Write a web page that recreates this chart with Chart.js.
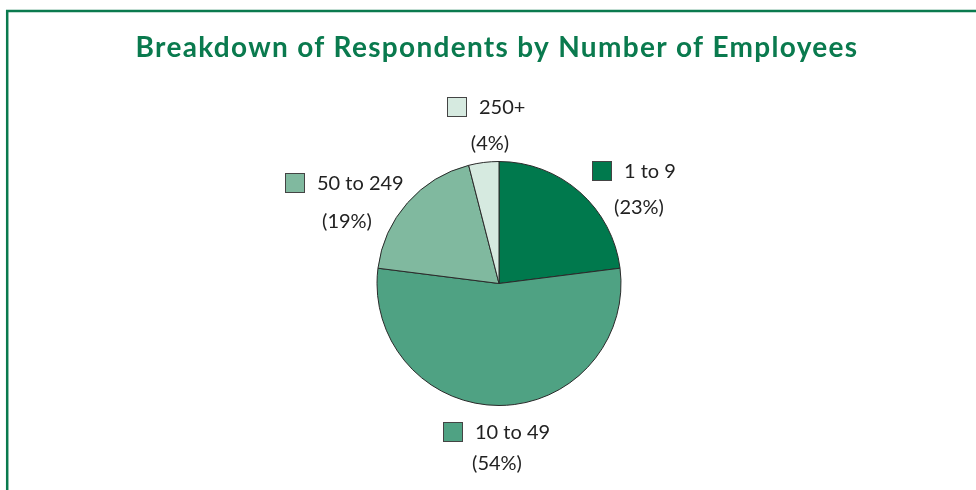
<!DOCTYPE html>
<html>
<head>
<meta charset="utf-8">
<title>Breakdown of Respondents by Number of Employees</title>
<script src="https://cdn.jsdelivr.net/npm/chart.js@4/dist/chart.umd.min.js"></script>
<style>
  html, body { margin: 0; padding: 0; background: #fff; }
  #wrap { position: relative; width: 976px; height: 490px; }
</style>
</head>
<body>
<div id="wrap"><canvas id="pieChart" width="976" height="490"></canvas></div>
<script>
/* ── Data ────────────────────────────────────────────────────── */
const categories = ["1 to 9", "10 to 49", "50 to 249", "250+"];
const shares     = [23, 54, 19, 4];
const sliceColors = ["#00794d", "#4fa283", "#80b99f", "#d6eae0"];

const TITLE = "Breakdown of Respondents by Number of Employees";
const GREEN = "#0a7a4e";
const FONT  = "Lato, 'Open Sans', sans-serif";

/* label anchors: legend box top-left, percent text centre */
const labelSpots = [
  { bx: 592, by: 161, px: 639, py: 208 },
  { bx: 443, by: 422, px: 497, py: 464 },
  { bx: 285, by: 173, px: 347, py: 222 },
  { bx: 447, by: 97,  px: 490, py: 144 },
];

/* ── Frame, title and slice labels ───────────────────────────── */
const decorPlugin = {
  id: "decor",
  afterDraw(chart) {
    const c = chart.ctx;
    c.save();

    // green frame (top + left)
    c.strokeStyle = GREEN;
    c.lineWidth = 2.5;
    c.beginPath();
    c.moveTo(976, 11);
    c.lineTo(7.2, 11);
    c.lineTo(7.2, 490);
    c.stroke();

    // title – Gill Sans is wider than Lato, so open it up a bit
    c.fillStyle = GREEN;
    c.font = "bold 28px " + FONT;
    c.letterSpacing = "1.3px";
    c.textAlign = "center";
    c.textBaseline = "alphabetic";
    c.fillText(TITLE, 497, 57);
    c.letterSpacing = "0px";

    // labels
    c.font = "20px " + FONT;
    c.textBaseline = "middle";
    categories.forEach((name, i) => {
      const s = labelSpots[i];
      c.fillStyle = sliceColors[i];
      c.fillRect(s.bx, s.by, 20, 20);
      c.strokeStyle = "#444";
      c.lineWidth = 1;
      c.strokeRect(s.bx + 0.5, s.by + 0.5, 19, 19);

      c.fillStyle = "#222";
      c.textAlign = "left";
      c.fillText(name, s.bx + 32, s.by + 11);
      c.textAlign = "center";
      c.fillText(`(${shares[i]}%)`, s.px, s.py);
    });

    c.restore();
  },
};

/* ── Pie ─────────────────────────────────────────────────────── */
new Chart(document.getElementById("pieChart"), {
  type: "pie",
  data: {
    labels: categories,
    datasets: [{
      data:            shares,
      backgroundColor: sliceColors,
      borderColor:     "#2a2a2a",
      borderWidth:     1,
    }],
  },
  options: {
    responsive: false,
    animation: false,
    layout: { padding: { left: 376, right: 354, top: 161, bottom: 84 } },
    plugins: {
      legend:  { display: false },
      tooltip: { enabled: false },
    },
  },
  plugins: [decorPlugin],
});
</script>
</body>
</html>
